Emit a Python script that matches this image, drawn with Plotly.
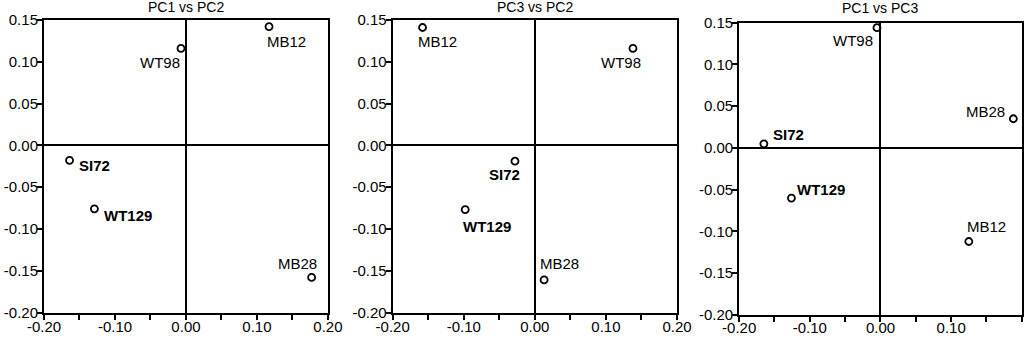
import plotly.graph_objects as go

samples = ["WT98", "MB12", "SI72", "WT129", "MB28"]
bold_samples = ["SI72", "WT129"]

titles = ["PC1 vs PC2", "PC3 vs PC2", "PC1 vs PC3"]

# Panel 1: PC1 (x) vs PC2 (y)
p1_x = [-0.007, 0.117, -0.164, -0.129, 0.177]
p1_y = [0.116, 0.142, -0.018, -0.076, -0.158]
# Panel 2: PC3 (x) vs PC2 (y)
p2_x = [0.138, -0.158, -0.028, -0.098, 0.013]
p2_y = [0.116, 0.141, -0.019, -0.077, -0.161]
# Panel 3: PC1 (x) vs PC3 (y)
p3_x = [-0.005, 0.125, -0.165, -0.126, 0.188]
p3_y = [0.144, -0.112, 0.005, -0.060, 0.035]

x_ticks = [-0.20, -0.15, -0.10, -0.05, 0.00, 0.05, 0.10, 0.15, 0.20]
x_ticktext = ["-0.20", "", "-0.10", "", "0.00", "", "0.10", "", "0.20"]
y_ticks = [-0.20, -0.15, -0.10, -0.05, 0.00, 0.05, 0.10, 0.15]
y_ticktext = ["-0.20", "-0.15", "-0.10", "-0.05", "0.00", "0.05", "0.10", "0.15"]

# label placement styles (xanchor, xshift, yshift) per panel, by sample order
label_styles = [
    [("right", 1, -14), ("left", -4, -15), ("left", 7, -5), ("left", 8, -7), ("right", 7, 14)],
    [("right", 10, -14), ("left", -7, -14), ("right", 7, -13), ("left", -4, -17), ("left", -6, 16)],
    [("right", -2, -13), ("left", -4, 15), ("left", 7, 9), ("left", 4, 9), ("right", -6, 7)],
]

panels = [(p1_x, p1_y), (p2_x, p2_y), (p3_x, p3_y)]
x_domains = [[0.0428, 0.319], [0.382, 0.6586], [0.719, 0.994]]
y_domains = [[0.0727, 0.9407], [0.0727, 0.9407], [0.0653, 0.9326]]
title_y = [0.979, 0.979, 0.976]
x_standoff = [-6, -6, -7]

FONT = "Liberation Sans, Arial, sans-serif"

fig = go.Figure()
annotations = []
layout = dict(
    width=1028, height=337,
    margin=dict(l=0, r=0, t=0, b=0, autoexpand=False),
    paper_bgcolor="white", plot_bgcolor="white",
    showlegend=False,
    font=dict(family=FONT, size=15, color="black"),
)

for i, (xs, ys) in enumerate(panels):
    n = "" if i == 0 else str(i + 1)
    fig.add_trace(go.Scatter(
        x=xs, y=ys, mode="markers",
        marker=dict(symbol="circle-open", size=7, color="black", line=dict(width=1.8, color="black")),
        xaxis="x" + n, yaxis="y" + n, hoverinfo="skip", cliponaxis=False,
    ))
    axis_common = dict(
        showline=True, linecolor="black", linewidth=2, mirror=True,
        zeroline=True, zerolinecolor="black", zerolinewidth=2,
        showgrid=False, ticks="outside", ticklen=5, tickwidth=2, tickcolor="black",
        tickfont=dict(family=FONT, size=15, color="black"), automargin=False,
    )
    layout["xaxis" + n] = dict(
        axis_common, domain=x_domains[i], range=[-0.2, 0.2], anchor="y" + n,
        tickmode="array", tickvals=x_ticks, ticktext=x_ticktext, ticklabelstandoff=x_standoff[i],
    )
    layout["yaxis" + n] = dict(
        axis_common, domain=y_domains[i], range=[-0.2, 0.15], anchor="x" + n,
        tickmode="array", tickvals=y_ticks, ticktext=y_ticktext, ticklabelstandoff=-4,
    )
    for j, name in enumerate(samples):
        xa, xsh, ysh = label_styles[i][j]
        txt = "<b>%s</b>" % name if name in bold_samples else name
        annotations.append(dict(
            x=xs[j], y=ys[j], xref="x" + n, yref="y" + n, text=txt, showarrow=False,
            xanchor=xa, yanchor="middle", xshift=xsh, yshift=ysh,
            font=dict(family=FONT, size=15, color="black"),
        ))
    annotations.append(dict(
        x=sum(x_domains[i]) / 2, y=title_y[i], xref="paper", yref="paper",
        text=titles[i], showarrow=False, xanchor="center", yanchor="middle",
        font=dict(family=FONT, size=14, color="black"),
    ))

layout["annotations"] = annotations
fig.update_layout(**layout)
fig.write_html("out.html", config={"displayModeBar": False},
               post_script="document.body.style.margin='0';document.body.style.overflow='hidden';")
